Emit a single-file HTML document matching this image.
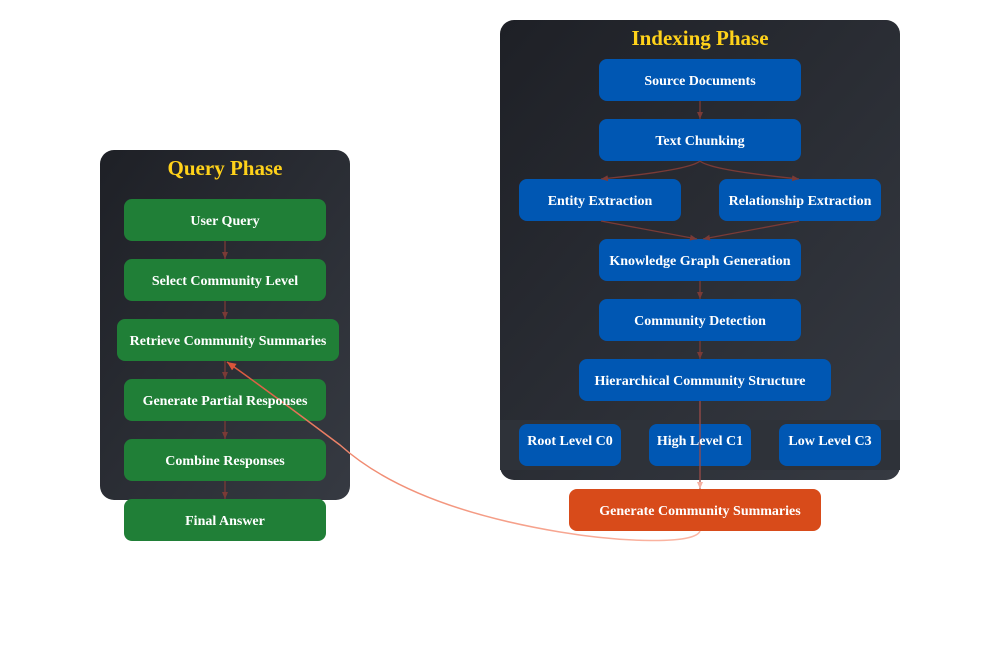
<!DOCTYPE html>
<html><head><meta charset="utf-8"><style>
html,body{margin:0;padding:0;background:#fff;}
svg{display:block;}
text{font-family:"Liberation Serif",serif;font-weight:bold;fill:#fff;font-size:14px;text-anchor:middle;}
</style></head><body>
<svg width="1000" height="650" viewBox="0 0 1000 650" xmlns="http://www.w3.org/2000/svg">
<defs>
<linearGradient id="pg" x1="0" y1="0" x2="1" y2="1">
<stop offset="0" stop-color="#1e2026"/><stop offset="1" stop-color="#363a42"/>
</linearGradient>
<linearGradient id="cg" x1="228" y1="363" x2="700" y2="531" gradientUnits="userSpaceOnUse">
<stop offset="0" stop-color="#d9553a"/><stop offset="0.3" stop-color="#f08a70"/><stop offset="1" stop-color="#fbb7a5"/>
</linearGradient>
<marker id="a" markerWidth="8" markerHeight="8" refX="7" refY="4" orient="auto" markerUnits="userSpaceOnUse">
<path d="M0,1 L7,4 L0,7 Z" fill="#7a3a36"/></marker>
<marker id="a2" markerWidth="10" markerHeight="10" refX="9" refY="5" orient="auto" markerUnits="userSpaceOnUse">
<path d="M0,1 L9,5 L0,9 Z" fill="#d9553a"/></marker>
<marker id="a3" markerWidth="8" markerHeight="8" refX="7" refY="4" orient="auto" markerUnits="userSpaceOnUse">
<path d="M0,1 L7,4 L0,7 Z" fill="#f7b0a0"/></marker>
</defs>
<rect x="500" y="20" width="400" height="460" rx="14" fill="url(#pg)"/>
<rect x="500" y="420" width="400" height="50" fill="#2e3239"/>
<rect x="100" y="150" width="250" height="350" rx="14" fill="url(#pg)"/>
<text x="700" y="45" style="font-size:21px;fill:#ffd21a">Indexing Phase</text>
<text x="225" y="175" style="font-size:21px;fill:#ffd21a">Query Phase</text>
<g fill="#0057b3">
<rect x="599" y="59" width="202" height="42" rx="8"/>
<rect x="599" y="119" width="202" height="42" rx="8"/>
<rect x="519" y="179" width="162" height="42" rx="8"/>
<rect x="719" y="179" width="162" height="42" rx="8"/>
<rect x="599" y="239" width="202" height="42" rx="8"/>
<rect x="599" y="299" width="202" height="42" rx="8"/>
<rect x="579" y="359" width="252" height="42" rx="8"/>
<rect x="519" y="424" width="102" height="42" rx="8"/>
<rect x="649" y="424" width="102" height="42" rx="8"/>
<rect x="779" y="424" width="102" height="42" rx="8"/>
</g>
<rect x="569" y="489" width="252" height="42" rx="8" fill="#d84b1a"/>
<g fill="#207f37">
<rect x="124" y="199" width="202" height="42" rx="8"/>
<rect x="124" y="259" width="202" height="42" rx="8"/>
<rect x="117" y="319" width="222" height="42" rx="8"/>
<rect x="124" y="379" width="202" height="42" rx="8"/>
<rect x="124" y="439" width="202" height="42" rx="8"/>
<rect x="124" y="499" width="202" height="42" rx="8"/>
</g>
<g stroke="#7a3a36" stroke-width="1.3" fill="none" marker-end="url(#a)">
<path d="M700,101 L700,119"/>
<path d="M700,161 Q690,170 601,179"/>
<path d="M700,161 Q710,170 799,179"/>
<path d="M601,221 L697,239"/>
<path d="M799,221 L703,239"/>
<path d="M700,281 L700,299"/>
<path d="M700,341 L700,359"/>
<path d="M225,241 L225,259"/>
<path d="M225,301 L225,319"/>
<path d="M225,361 L225,379"/>
<path d="M225,421 L225,439"/>
<path d="M225,481 L225,499"/>
</g>
<path d="M700,401 L700,489" stroke="#9a4a47" stroke-width="1.3" fill="none" marker-end="url(#a3)"/>
<path d="M700,531 C695,545 620,542 560,532 C470,517 390,490 340,445 C300,415 260,385 227,362" stroke="url(#cg)" stroke-width="1.5" fill="none" marker-end="url(#a2)"/>
<text x="700" y="85">Source Documents</text>
<text x="700" y="145">Text Chunking</text>
<text x="600" y="205">Entity Extraction</text>
<text x="800" y="205">Relationship Extraction</text>
<text x="700" y="265">Knowledge Graph Generation</text>
<text x="700" y="325">Community Detection</text>
<text x="700" y="385">Hierarchical Community Structure</text>
<text x="570" y="445">Root Level C0</text>
<text x="700" y="445">High Level C1</text>
<text x="830" y="445">Low Level C3</text>
<text x="700" y="515">Generate Community Summaries</text>
<text x="225" y="225">User Query</text>
<text x="225" y="285">Select Community Level</text>
<text x="228" y="345">Retrieve Community Summaries</text>
<text x="225" y="405">Generate Partial Responses</text>
<text x="225" y="465">Combine Responses</text>
<text x="225" y="525">Final Answer</text>
</svg>
</body></html>
